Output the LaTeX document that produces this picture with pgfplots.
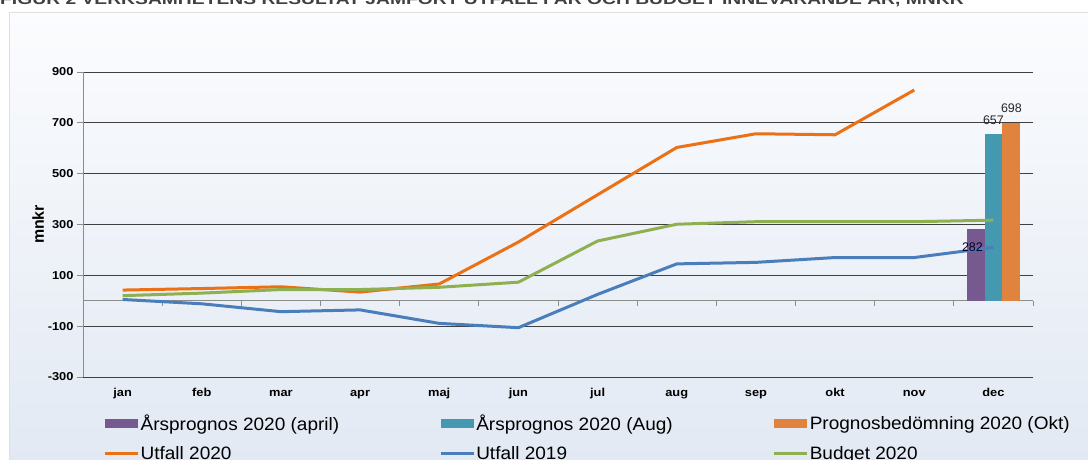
\documentclass[border=0pt]{standalone}
\usepackage{pgfplots}
\pgfplotsset{compat=1.18}
\usepackage{fontspec}
\setmainfont{Liberation Sans}
\newfontfamily\legfont[FakeStretch=1.06]{Liberation Sans}
\newfontfamily\tickfont[FakeStretch=1.12]{Liberation Sans}
\newfontfamily\titlefont[FakeStretch=1.29]{Liberation Sans}
\definecolor{cPurple}{HTML}{76598E}
\definecolor{cTeal}{HTML}{4499B0}
\definecolor{cOrangeBar}{HTML}{E0833E}
\definecolor{cOrange}{HTML}{EC7014}
\definecolor{cBlue}{HTML}{4A7EBB}
\definecolor{cGreen}{HTML}{8EB050}
\definecolor{bgTop}{HTML}{FBFCFE}
\definecolor{bgBot}{HTML}{E2E9F3}
\begin{document}
\begin{tikzpicture}
\useasboundingbox (0bp,0bp) rectangle (1088bp,460bp);
\fill[white] (0bp,0bp) rectangle (1088bp,460bp);
\shade[top color=bgTop, bottom color=bgBot] (9bp,-2bp) rectangle (1092bp,448bp);
\draw[black!12, line width=0.8bp] (9bp,-2bp) -- (9bp,448bp) -- (1092bp,448bp);
\node[anchor=base west, inner sep=0pt, text=black!75] at (0bp,455bp)
  {\titlefont\fontsize{15}{15}\selectfont\bfseries FIGUR 2 VERKSAMHETENS RESULTAT JÄMFÖRT UTFALL I ÅR OCH BUDGET INNEVARANDE ÅR, MNKR};
\begin{axis}[
  at={(83bp,83bp)}, anchor=south west, scale only axis,
  width=950bp, height=305bp,
  xmin=-0.5, xmax=11.5, ymin=-300, ymax=900,
  clip=false,
  axis x line*=bottom, axis y line*=left,
  x axis line style={draw=none},
  y axis line style={draw=black!45, line width=0.8bp},
  xtick={0,...,11},
  xticklabels={jan,feb,mar,apr,maj,jun,jul,aug,sep,okt,nov,dec},
  xtick style={draw=none},
  ytick={-300,-100,100,300,500,700,900},
  ytick style={draw=black!45, line width=0.8bp},
  tick align=outside, major tick length=6bp,
  ymajorgrids, grid style={draw=black!75, line width=0.8bp},
  tick label style={font=\tickfont\fontsize{11.5}{11.5}\selectfont\bfseries},
  xticklabel style={text height=8.5bp, text depth=2.5bp, yshift=-1bp},
  /pgf/number format/assume math mode=true,
  every axis y label/.style={at={(axis description cs:-0.0474,0.5)}, rotate=90, anchor=center, font=\fontsize{16}{16}\selectfont\bfseries},
  ylabel={mnkr},
  legend columns=3,
  legend cell align=left,
  legend style={at={(axis description cs:0.0215,-0.118)}, anchor=north west,
    draw=none, fill=none, inner sep=0pt,
    font=\legfont\fontsize{18}{18}\selectfont, row sep=10bp,
    nodes={inner xsep=1bp, inner ysep=2bp},
    /tikz/every even column/.append style={column sep=99bp}},
]
\draw[black!45, line width=0.8bp] (axis cs:-0.5,0) -- (axis cs:11.5,0);
\pgfplotsinvokeforeach{0.5,1.5,2.5,3.5,4.5,5.5,6.5,7.5,8.5,9.5,10.5,11.5}{\draw[black!45, line width=0.8bp] (axis cs:#1,0) -- ++(0pt,-5bp);}
% bars
\addplot[ybar, bar width=17.5bp, bar shift=-17.5bp, fill=cPurple, draw=none,
  legend image code/.code={\fill[cPurple] (0bp,-4.5bp) rectangle (33bp,4.5bp);},
  nodes near coords, every node near coord/.style={anchor=center, xshift=-21bp, yshift=-18bp, font=\fontsize{12.5}{12.5}\selectfont, text=black!85!blue}]
  coordinates {(11,282)};
\addlegendentry{Årsprognos 2020 (april)}
\addplot[ybar, bar width=17.5bp, bar shift=0bp, fill=cTeal, draw=none,
  legend image code/.code={\fill[cTeal] (0bp,-4.5bp) rectangle (33bp,4.5bp);},
  nodes near coords, every node near coord/.style={anchor=center, yshift=14bp, font=\fontsize{12.5}{12.5}\selectfont, text=black!85}]
  coordinates {(11,657)};
\addlegendentry{Årsprognos 2020 (Aug)}
\addplot[ybar, bar width=17.5bp, bar shift=17.5bp, fill=cOrangeBar, draw=none,
  legend image code/.code={\fill[cOrangeBar] (0bp,-4.5bp) rectangle (33bp,4.5bp);},
  nodes near coords, every node near coord/.style={anchor=center, xshift=18bp, yshift=15bp, font=\fontsize{12.5}{12.5}\selectfont, text=black!85}]
  coordinates {(11,698)};
\addlegendentry{Prognosbedömning 2020 (Okt)}
% lines
\addplot[cOrange, line width=3bp, line join=round, no markers,
  legend image code/.code={\draw[cOrange, line width=3bp] (0bp,0bp) -- (33bp,0bp);}]
  coordinates {(0,42) (1,48) (2,55) (3,34) (4,66) (5,231) (6,417) (7,603) (8,657) (9,653) (10,829)};
\addlegendentry{Utfall 2020}
\addplot[cBlue, line width=3bp, line join=round, no markers,
  legend image code/.code={\draw[cBlue, line width=3bp] (0bp,0bp) -- (33bp,0bp);}]
  coordinates {(0,5) (1,-12) (2,-43) (3,-36) (4,-89) (5,-106) (6,25) (7,145) (8,151) (9,170) (10,170) (11,210)};
\addlegendentry{Utfall 2019}
\addplot[cGreen, line width=3bp, line join=round, no markers,
  legend image code/.code={\draw[cGreen, line width=3bp] (0bp,0bp) -- (33bp,0bp);}]
  coordinates {(0,20) (1,30) (2,44) (3,44) (4,53) (5,73) (6,235) (7,301) (8,311) (9,311) (10,311) (11,317)};
\addlegendentry{Budget 2020}
\end{axis}
\end{tikzpicture}
\end{document}
